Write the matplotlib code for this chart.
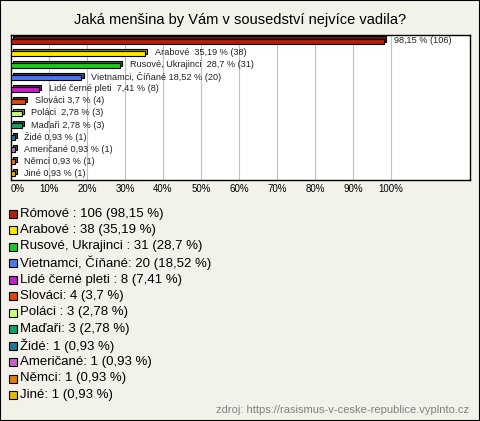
import matplotlib
matplotlib.use("Agg")
import matplotlib.pyplot as plt
from matplotlib.patches import Rectangle
from matplotlib import colors as mcolors

plt.rcParams['font.family'] = ['Liberation Sans', 'DejaVu Sans']

# data
categories = ["Rómové", "Arabové", "Rusové, Ukrajinci", "Vietnamci, Číňané",
              "Lidé černé pleti", "Slováci", "Poláci", "Maďaři", "Židé",
              "Američané", "Němci", "Jiné"]
counts = [106, 38, 31, 20, 8, 4, 3, 3, 1, 1, 1, 1]
percents = [98.15, 35.19, 28.7, 18.52, 7.41, 3.7, 2.78, 2.78, 0.93, 0.93, 0.93, 0.93]
bar_labels = ["98,15 % (106)", "Arabové  35,19 % (38)", "Rusové, Ukrajinci  28,7 % (31)",
              "Vietnamci, Číňané 18,52 % (20)", "Lidé černé pleti  7,41 % (8)",
              "Slováci 3,7 % (4)", "Poláci  2,78 % (3)", "Maďaři 2,78 % (3)",
              "Židé 0,93 % (1)", "Američané 0,93 % (1)", "Němci 0,93 % (1)",
              "Jiné 0,93 % (1)"]
legend_labels = ["Rómové : 106 (98,15 %)", "Arabové : 38 (35,19 %)",
                 "Rusové, Ukrajinci : 31 (28,7 %)", "Vietnamci, Číňané: 20 (18,52 %)",
                 "Lidé černé pleti : 8 (7,41 %)", "Slováci: 4 (3,7 %)",
                 "Poláci : 3 (2,78 %)", "Maďaři: 3 (2,78 %)", "Židé: 1 (0,93 %)",
                 "Američané: 1 (0,93 %)", "Němci: 1 (0,93 %)", "Jiné: 1 (0,93 %)"]
bar_colors = ["#b41e0a", "#ffe600", "#1ec81e", "#4b78f0", "#c81ec8", "#e1460a",
              "#c8ff78", "#14a064", "#1e7896", "#c364c8", "#e67814", "#e6b40a"]
tick_vals = list(range(0, 101, 10))

bg = "#f3f2ea"
W, H = 480, 421
fig = plt.figure(figsize=(4.8, 4.21), dpi=100, facecolor=bg)

# plot area in pixels: x 11..470, y 35..180
ax = fig.add_axes([11 / W, 1 - 180 / H, 459 / W, 145 / H])
ax.set_facecolor("white")
ax.set_xlim(0, 459 / 3.8)
ax.set_ylim(len(categories) - 0.5, -0.5)
for s in ax.spines.values():
    s.set_linewidth(1)
    s.set_color("black")
for v in tick_vals[1:]:
    ax.axvline(v, color="#c0c0c0", lw=0.8, zorder=0)

dx, dy, h = 0.6, 0.17, 0.42
for i, (p, c) in enumerate(zip(percents, bar_colors)):
    dark = tuple(x * 0.6 for x in mcolors.to_rgb(c))
    ax.add_patch(Rectangle((dx, i - h / 2 - dy), p, h, facecolor=dark,
                           edgecolor="black", lw=0.8, zorder=2))
    ax.add_patch(Rectangle((0, i - h / 2), p, h, facecolor=c,
                           edgecolor="black", lw=0.8, zorder=3))
    ax.text(p + 2.6, i - 0.05, bar_labels[i], fontsize=6.6, va="center",
            ha="left", color="#222222", zorder=4)

ax.set_xticks(tick_vals)
ax.set_xticklabels([f"{v}%" for v in tick_vals], fontsize=7)
ax.tick_params(axis="x", length=0, pad=3)
ax.get_xticklabels()[0].set_ha("left")
ax.set_yticks([])

fig.text(0.5, 1 - 20 / H, "Jaká menšina by Vám v sousedství nejvíce vadila?",
         ha="center", va="center", fontsize=10.5)

# legend
for i, (lab, c) in enumerate(zip(legend_labels, bar_colors)):
    yc = 213.5 + i * 16.5
    fig.add_artist(Rectangle((9 / W, 1 - (yc + 4) / H), 8 / W, 8 / H,
                             facecolor=c, edgecolor="black", lw=0.8,
                             transform=fig.transFigure))
    fig.text(20 / W, 1 - yc / H, lab, ha="left", va="center", fontsize=9.5)

fig.text(469 / W, 1 - 410 / H, "zdroj: https://rasismus-v-ceske-republice.vyplnto.cz",
         ha="right", va="center", fontsize=8, color="#808080")

fig.add_artist(Rectangle((0, 0), 1, 1, fill=False, edgecolor="black", lw=1.5,
                         transform=fig.transFigure))

fig.savefig("out.png", dpi=100, facecolor=bg)
